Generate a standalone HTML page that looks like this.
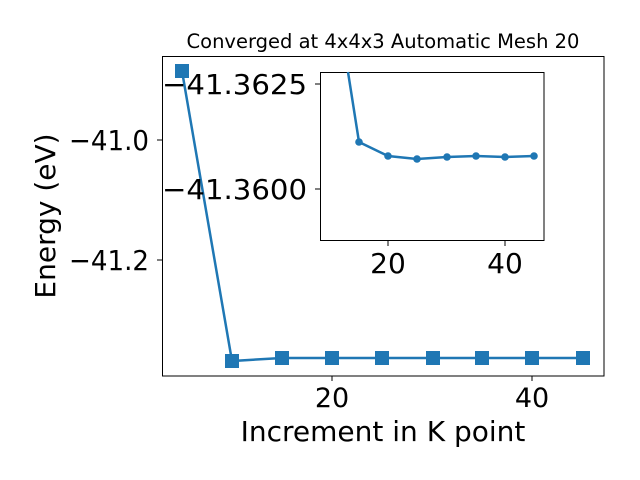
<!DOCTYPE html>
<html><head><style>body{margin:0;background:#fff}svg{display:block}text{font-family:"DejaVu Sans","Liberation Sans",sans-serif;fill:#000}</style></head>
<body>
<svg width="640" height="480" viewBox="0 0 640 480" xmlns="http://www.w3.org/2000/svg">
<rect width="640" height="480" fill="#fff"/>
<text x="383" y="48" font-size="19.5" text-anchor="middle">Converged at 4x4x3 Automatic Mesh 20</text>
<polyline points="182,71 232,361 282,358 332,358 382,358 432,358 482,358 532,358 583,358" fill="none" stroke="#1f77b4" stroke-width="2.5"/>
<g fill="#1f77b4">
<rect x="175" y="64" width="14" height="14"/>
<rect x="225" y="354" width="14" height="14"/>
<rect x="275" y="351" width="14" height="14"/>
<rect x="325" y="351" width="14" height="14"/>
<rect x="375" y="351" width="14" height="14"/>
<rect x="426" y="351" width="14" height="14"/>
<rect x="475" y="351" width="14" height="14"/>
<rect x="525" y="351" width="14" height="14"/>
<rect x="576" y="351" width="14" height="14"/>
</g>
<rect x="162.5" y="56.5" width="441.5" height="319.5" fill="none" stroke="#000" stroke-width="1"/>
<g stroke="#000" stroke-width="1">
<line x1="157" y1="140" x2="162" y2="140"/>
<line x1="157" y1="260" x2="162" y2="260"/>
<line x1="332" y1="376" x2="332" y2="381"/>
<line x1="532" y1="376" x2="532" y2="381"/>
</g>
<text x="149" y="150" font-size="28" text-anchor="end" textLength="80" lengthAdjust="spacingAndGlyphs">−41.0</text>
<text x="149" y="270" font-size="28" text-anchor="end" textLength="80" lengthAdjust="spacingAndGlyphs">−41.2</text>
<text x="332" y="407" font-size="27" text-anchor="middle">20</text>
<text x="532" y="407" font-size="27" text-anchor="middle">40</text>
<text x="383" y="441" font-size="28" text-anchor="middle">Increment in K point</text>
<text transform="translate(55,216) rotate(-90)" font-size="28" text-anchor="middle">Energy (eV)</text>
<rect x="320.5" y="72.5" width="223.5" height="168" fill="#fff" stroke="#000" stroke-width="1"/>
<polyline points="348,72 359,142 388,156 417,159 447,157 476,156 505,157 534,156" fill="none" stroke="#1f77b4" stroke-width="2.5"/>
<g fill="#1f77b4">
<circle cx="359" cy="142" r="3.8"/><circle cx="388" cy="156" r="3.8"/><circle cx="417" cy="159" r="3.8"/><circle cx="447" cy="157" r="3.8"/><circle cx="476" cy="156" r="3.8"/><circle cx="505" cy="157" r="3.8"/><circle cx="534" cy="156" r="3.8"/>
</g>
<g stroke="#000" stroke-width="1">
<line x1="315" y1="84" x2="320" y2="84"/>
<line x1="315" y1="189" x2="320" y2="189"/>
<line x1="388" y1="241" x2="388" y2="246"/>
<line x1="505" y1="241" x2="505" y2="246"/>
</g>
<text x="307" y="94" font-size="28" text-anchor="end" textLength="145" lengthAdjust="spacingAndGlyphs">−41.3625</text>
<text x="307" y="199" font-size="28" text-anchor="end" textLength="145" lengthAdjust="spacingAndGlyphs">−41.3600</text>
<text x="388" y="273" font-size="28" text-anchor="middle">20</text>
<text x="505" y="273" font-size="28" text-anchor="middle">40</text>
</svg>
</body></html>
